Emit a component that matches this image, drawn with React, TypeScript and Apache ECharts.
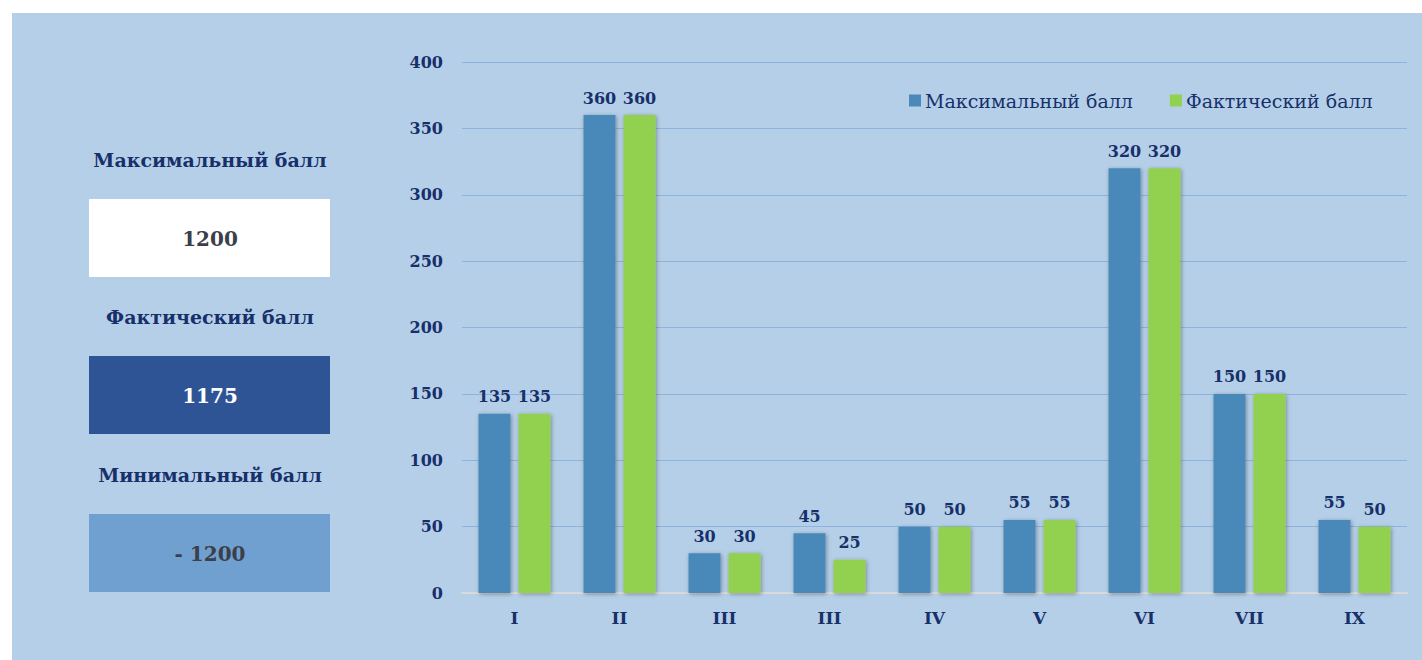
import React, { useEffect, useRef } from "react";
import * as echarts from "echarts";

const categories = ["I", "II", "III", "III", "IV", "V", "VI", "VII", "IX"];
const maxScores = [135, 360, 30, 45, 50, 55, 320, 150, 55];
const actualScores = [135, 360, 30, 25, 50, 55, 320, 150, 50];
const seriesNames = ["Максимальный балл", "Фактический балл"];
const summaryTitles = ["Максимальный балл", "Фактический балл", "Минимальный балл"];
const summaryValues = ["1200", "1175", "- 1200"];

const FONT = "'DejaVu Serif', 'Liberation Serif', serif";
const NAVY = "#17306a";

export default function App() {
  const ref = useRef<HTMLDivElement>(null);
  useEffect(() => {
    document.body.style.margin = "0";
    const chart = echarts.init(ref.current!, undefined, { renderer: "svg" });
    const boxFills = ["#ffffff", "#2f5496", "#70a0d0"];
    const boxText = ["#3b3f4a", "#ffffff", "#3b3f4a"];
    const titleY = [160, 317, 475];
    const boxY = [199, 356, 514];
    const graphics: any[] = [
      { type: "rect", z: -10, shape: { x: 12, y: 13, width: 1410, height: 647 }, style: { fill: "#b5cfe8" }, silent: true },
    ];
    summaryTitles.forEach((t, i) => {
      graphics.push({
        type: "text",
        x: 210,
        y: titleY[i],
        style: { text: t, fill: NAVY, font: `bold 19px ${FONT}`, textAlign: "center", textVerticalAlign: "middle" },
      });
      graphics.push({
        type: "rect",
        shape: { x: 89, y: boxY[i], width: 241, height: 78 },
        style: { fill: boxFills[i] },
      });
      graphics.push({
        type: "text",
        x: 210,
        y: boxY[i] + 40,
        style: { text: summaryValues[i], fill: boxText[i], font: `bold 20px ${FONT}`, textAlign: "center", textVerticalAlign: "middle" },
      });
    });
    const shadow = { shadowColor: "rgba(0,0,0,0.35)", shadowBlur: 4, shadowOffsetX: 1, shadowOffsetY: 1 };
    const labelStyle = { show: true, position: "top", distance: 9, color: NAVY, fontFamily: FONT, fontWeight: "bold", fontSize: 16 };
    chart.setOption({
      animation: false,
      backgroundColor: "#ffffff",
      graphic: graphics,
      legend: {
        left: 904,
        top: 86,
        itemWidth: 12,
        itemHeight: 12,
        itemGap: 37,
        icon: "rect",
        textStyle: { color: NAVY, fontFamily: FONT, fontSize: 19, padding: [0, 0, 0, -1] },
        data: seriesNames,
      },
      grid: { left: 462, right: 15, top: 62, bottom: 67, containLabel: false },
      xAxis: {
        type: "category",
        data: categories,
        axisLine: { lineStyle: { color: "#d9d9d9", width: 2 } },
        axisTick: { show: false },
        axisLabel: { color: NAVY, fontFamily: FONT, fontWeight: "bold", fontSize: 17, margin: 16 },
      },
      yAxis: {
        type: "value",
        min: 0,
        max: 400,
        interval: 50,
        axisLine: { show: false },
        axisTick: { show: false },
        splitLine: { lineStyle: { color: "#8cb4dc", width: 1 } },
        axisLabel: { color: NAVY, fontFamily: FONT, fontWeight: "bold", fontSize: 16, margin: 19 },
      },
      series: [
        {
          name: seriesNames[0],
          type: "bar",
          data: maxScores,
          barWidth: 32,
          barGap: "25%",
          itemStyle: { color: "#4a89b9", ...shadow },
          label: labelStyle,
        },
        {
          name: seriesNames[1],
          type: "bar",
          data: actualScores,
          barWidth: 32,
          itemStyle: { color: "#92d050", ...shadow },
          label: labelStyle,
        },
      ],
    });
    return () => chart.dispose();
  }, []);
  return <div ref={ref} style={{ position: "fixed", left: 0, top: 0, width: 1422, height: 660 }} />;
}
